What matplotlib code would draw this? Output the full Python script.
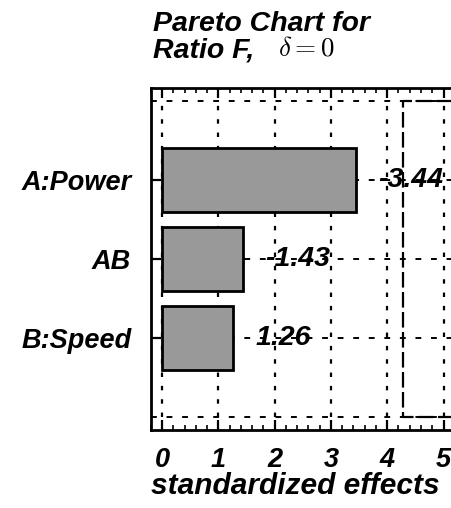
import matplotlib
matplotlib.use("Agg")
import matplotlib.pyplot as plt
from matplotlib.ticker import MultipleLocator

# Data
factors = ["A:Power", "AB", "B:Speed"]
effects = [3.44, 1.43, 1.26]
effect_labels = ["-3.44", "-1.43", "1.26"]
critical_value = 4.28
x_ticks = [0, 1, 2, 3, 4, 5]

W, H = 452, 508
fig = plt.figure(figsize=(W / 100, H / 100), dpi=100)
fam = "Liberation Sans"

# axes geometry in pixels
x0px, unit = 162.0, 56.3
xmin, xmax = -0.2, 5.3
left = x0px + xmin * unit
width = (xmax - xmin) * unit
top, bottom = 88, 430
ax = fig.add_axes([left / W, (H - bottom) / H, width / W, (bottom - top) / H])
ax.set_xlim(xmin, xmax)
ax.set_ylim(-1.165, 3.165)

ypos = [2, 1, 0]
# grid
for xv in x_ticks:
    ax.plot([xv, xv], [-1, 3], color="black", lw=1.6, ls=(0, (2, 4)), zorder=1)
for yv in [-1, 0, 1, 2, 3]:
    ax.plot([xmin, xmax], [yv, yv], color="black", lw=1.4, ls=(0, (3, 5)), zorder=1)

# critical box (right side runs off the figure)
ax.plot([xmax + 1, critical_value, critical_value, xmax + 1], [3, 3, -1, -1],
        color="black", lw=1.6, ls=(0, (7, 2)), zorder=2)

ax.barh(ypos, effects, height=0.8, color="#999999", edgecolor="black",
        linewidth=2, zorder=3)
for y, v, lab in zip(ypos, effects, effect_labels):
    ax.text(v + 0.4, y, lab, ha="left", va="center", fontsize=20.5,
            fontweight="bold", fontstyle="italic", family=fam, zorder=4)

ax.set_yticks(ypos)
ax.set_yticklabels(factors)
ax.set_xticks(x_ticks)
ax.xaxis.set_minor_locator(MultipleLocator(0.2))
ax.tick_params(axis="x", which="major", direction="in", top=True, bottom=True,
               length=7, width=1.6, pad=12, labelsize=19.5)
ax.tick_params(axis="x", which="minor", direction="in", top=True, bottom=True,
               length=3.5, width=1.2)
ax.tick_params(axis="y", which="major", direction="in", left=True, right=False,
               length=7, width=1.6, pad=14, labelsize=19.5)
for lab in ax.get_xticklabels() + ax.get_yticklabels():
    lab.set_family(fam)
    lab.set_fontweight("bold")
    lab.set_fontstyle("italic")
for sp in ax.spines.values():
    sp.set_linewidth(2)

# titles
fig.text(153 / W, 1 - 31 / H, "Pareto Chart for", fontsize=20.5, fontweight="bold",
         fontstyle="italic", family=fam, ha="left", va="baseline")
fig.text(153 / W, 1 - 58 / H, "Ratio F,", fontsize=20.5, fontweight="bold",
         fontstyle="italic", family=fam, ha="left", va="baseline")
plt.rcParams["mathtext.fontset"] = "cm"
fig.text(278 / W, 1 - 56 / H, r"$\delta = 0$", fontsize=19.5, ha="left", va="baseline")

fig.text(295 / W, 1 - 494 / H, "standardized effects", fontsize=21.5, fontweight="bold",
         fontstyle="italic", family=fam, ha="center", va="baseline")

fig.savefig("out.png", dpi=100)
